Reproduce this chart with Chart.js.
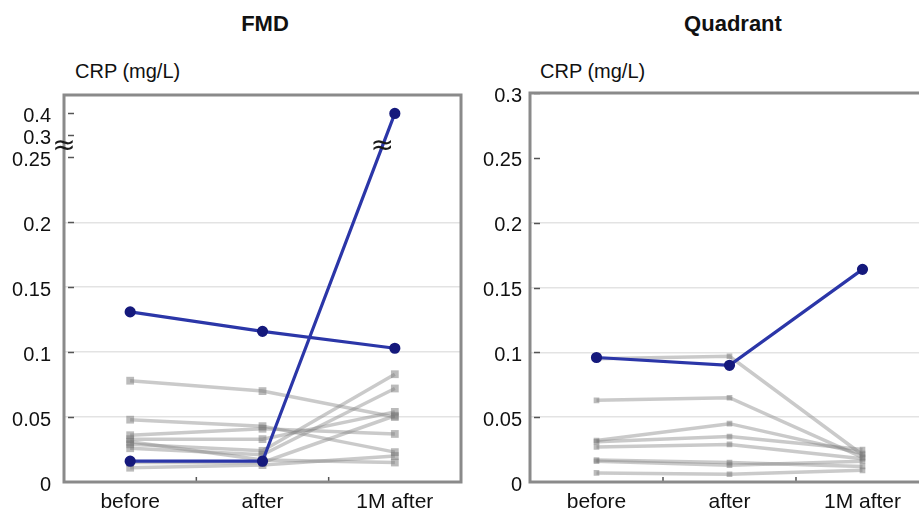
<!DOCTYPE html>
<html>
<head>
<meta charset="utf-8">
<script src="https://cdn.jsdelivr.net/npm/chart.js@4/dist/chart.umd.min.js"></script>
<style>
  html, body { margin: 0; padding: 0; background: #fff; }
  #wrap { position: relative; width: 919px; height: 516px; overflow: hidden; font-family: "Liberation Sans", Arial, sans-serif; color: #111; }
  .title { position: absolute; top: 13px; font-weight: bold; font-size: 22px; line-height: 22px; transform: translateX(-50%); white-space: nowrap; }
  .unit { position: absolute; top: 61px; font-size: 20px; line-height: 20px; white-space: nowrap; }
  canvas { position: absolute; top: 60px; }
</style>
</head>
<body>
<div id="wrap">
  <div class="title" style="left:265px">FMD</div>
  <div class="title" style="left:733px">Quadrant</div>
  <div class="unit" style="left:75px">CRP (mg/L)</div>
  <div class="unit" style="left:540px">CRP (mg/L)</div>
  <canvas id="fmd" width="470" height="456" style="left:0"></canvas>
  <canvas id="quad" width="470" height="456" style="left:470px"></canvas>
</div>
<script>
const categories = ['before', 'after', '1M after'];

// FMD group, CRP in mg/L
const fmdHighlight = [
  [0.131, 0.116, 0.103],
  [0.016, 0.016, 0.4]
];
const fmdOthers = [
  [0.078, 0.070, 0.050],
  [0.048, 0.043, 0.023],
  [0.036, 0.041, 0.037],
  [0.033, 0.033, 0.054],
  [0.029, 0.024, 0.083],
  [0.026, 0.021, 0.072],
  [0.015, 0.015, 0.051],
  [0.031, 0.017, 0.015],
  [0.011, 0.013, 0.020]
];
const fmdTicks = [0, 0.05, 0.1, 0.15, 0.2, 0.25, 0.3, 0.4];

// Quadrant group
const quadHighlight = [
  [0.096, 0.090, 0.164]
];
const quadOthers = [
  [0.095, 0.097, 0.021],
  [0.063, 0.065, 0.019],
  [0.032, 0.045, 0.022],
  [0.031, 0.035, 0.025],
  [0.027, 0.029, 0.018],
  [0.017, 0.015, 0.012],
  [0.016, 0.013, 0.016],
  [0.007, 0.006, 0.009]
];
const quadTicks = [0, 0.05, 0.1, 0.15, 0.2, 0.25, 0.3];

// broken axis: linear up to 0.25, squeezed above it
function fmdAxis(v) {
  if (v <= 0.25) return v;
  if (v <= 0.3) return 0.25 + (v - 0.25) * 0.338;
  return 0.2669 + (v - 0.3) * 0.169;
}
const same = v => v;

const FONT = '"Liberation Sans", Arial, sans-serif';

const framePlugin = {
  id: 'frame',
  afterDraw(chart, args, opts) {
    const { ctx, chartArea: a, scales: { x, y } } = chart;
    ctx.save();
    // short tick dashes inside the left edge
    ctx.strokeStyle = '#555';
    ctx.lineWidth = 1.5;
    y.ticks.forEach(t => {
      if (t.value === 0) return;
      const py = Math.round(y.getPixelForValue(t.value)) + 0.5;
      ctx.beginPath();
      ctx.moveTo(a.left + 4, py);
      ctx.lineTo(a.left + 10, py);
      ctx.stroke();
    });
    // small marks between categories on the bottom edge
    for (let i = 0; i < categories.length - 1; i++) {
      const px = (x.getPixelForValue(i) + x.getPixelForValue(i + 1)) / 2;
      ctx.beginPath();
      ctx.moveTo(px, a.bottom - 1);
      ctx.lineTo(px, a.bottom - 5);
      ctx.stroke();
    }
    ctx.strokeStyle = '#8a8a8a';
    ctx.lineWidth = 3;
    ctx.strokeRect(a.left, a.top, a.right - a.left, a.bottom - a.top);

    if (opts.breakValue) {
      const yb = y.getPixelForValue(opts.map(opts.breakValue));
      ctx.fillStyle = '#1a1a1a';
      ctx.font = '28px "DejaVu Sans", sans-serif';
      ctx.textAlign = 'center';
      ctx.textBaseline = 'middle';
      ctx.fillText('\u2248', a.left, yb);
      // same mark where the highlighted line crosses the break
      const pts = chart.getDatasetMeta(opts.breakDataset).data;
      for (let i = 0; i < pts.length - 1; i++) {
        const p1 = pts[i], p2 = pts[i + 1];
        if ((p1.y - yb) * (p2.y - yb) < 0) {
          const t = (yb - p1.y) / (p2.y - p1.y);
          ctx.fillText('\u2248', p1.x + t * (p2.x - p1.x), yb);
        }
      }
    }
    ctx.restore();
  }
};

function buildChart(id, highlight, others, ticks, map, yMax, opt) {
  const datasets = [];
  highlight.forEach(s => datasets.push({
    data: s.map(map),
    borderColor: '#2b36a8',
    borderWidth: 3.2,
    pointBackgroundColor: '#15197c',
    pointBorderColor: '#15197c',
    pointRadius: 4,
    pointStyle: 'circle'
  }));
  others.forEach(s => datasets.push({
    data: s.map(map),
    borderColor: 'rgba(128,128,128,0.42)',
    borderWidth: 3.5,
    pointBackgroundColor: 'rgba(120,120,120,0.5)',
    pointBorderColor: 'rgba(120,120,120,0)',
    pointRadius: opt.marker,
    pointStyle: 'rect'
  }));

  return new Chart(document.getElementById(id), {
    type: 'line',
    data: { labels: categories, datasets },
    plugins: [framePlugin],
    options: {
      responsive: false,
      animation: false,
      layout: { padding: { top: opt.top, right: opt.right, left: 0, bottom: 0 } },
      plugins: {
        legend: { display: false },
        tooltip: { enabled: false },
        frame: opt.frame
      },
      scales: {
        x: {
          offset: true,
          border: { display: false },
          grid: { display: false, drawTicks: false },
          ticks: { color: '#111', padding: 8, font: { family: FONT, size: 21 } },
          afterFit: s => { s.height = 34; }
        },
        y: {
          min: 0,
          max: yMax,
          border: { display: false },
          afterBuildTicks: s => { s.ticks = ticks.map(v => ({ value: map(v) })); },
          afterFit: s => { s.width = opt.yWidth; },
          grid: {
            drawTicks: false,
            color: c => {
              const v = c.tick ? c.tick.value : 0;
              return v > 0.01 && v < 0.21 ? '#e3e3e3' : 'rgba(0,0,0,0)';
            },
            lineWidth: 1.5
          },
          ticks: {
            autoSkip: false,
            color: '#111',
            padding: opt.yPad,
            labelOffset: 3,
            font: { family: FONT, size: 20 },
            callback: (val, i) => String(ticks[i])
          }
        }
      }
    }
  });
}

buildChart('fmd', fmdHighlight, fmdOthers, fmdTicks, fmdAxis, 0.298, {
  top: 35, right: 9, yWidth: 64, yPad: 13, marker: 5.5,
  frame: { breakValue: 0.275, map: fmdAxis, breakDataset: 1 }
});

buildChart('quad', quadHighlight, quadOthers, quadTicks, same, 0.3, {
  top: 33, right: 11, yWidth: 60, yPad: 8, marker: 4,
  frame: {}
});
</script>
</body>
</html>
